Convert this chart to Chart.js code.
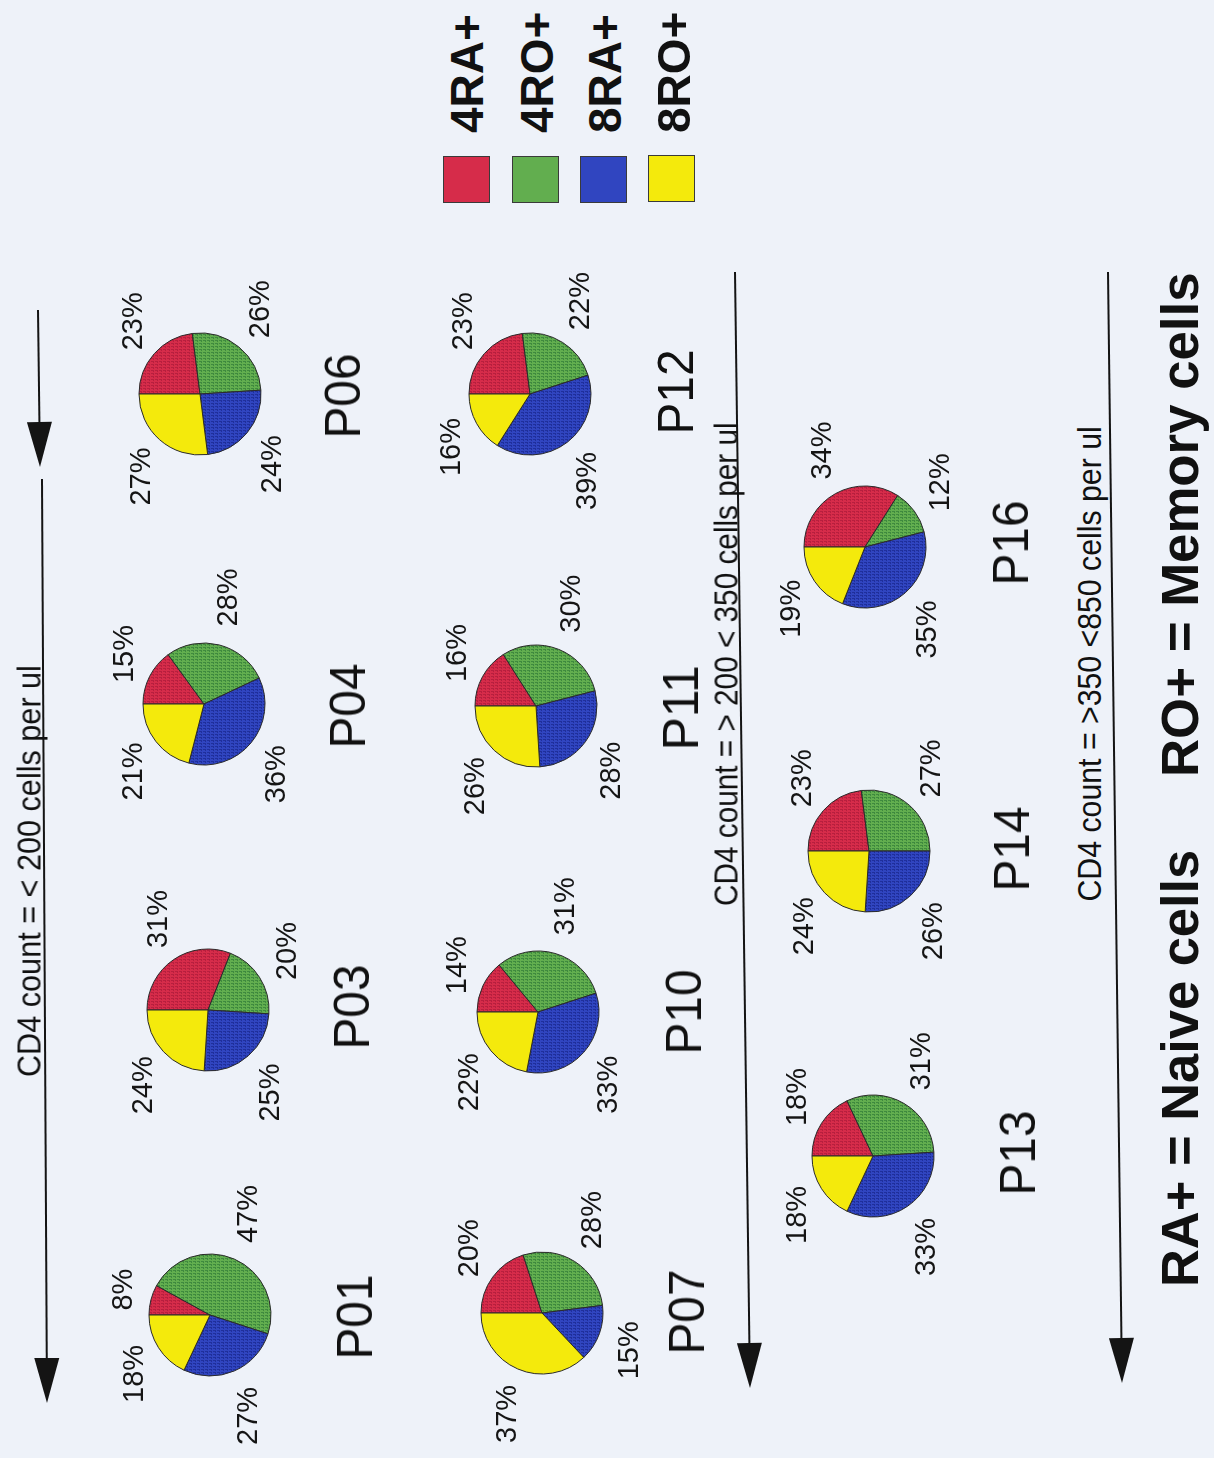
<!DOCTYPE html>
<html>
<head>
<meta charset="utf-8">
<script src="https://cdn.jsdelivr.net/npm/chart.js@4.4.1/dist/chart.umd.min.js"></script>
<style>
  html, body { margin: 0; padding: 0; background: #eef2f9; }
  #page {
    position: relative; width: 1214px; height: 1458px; overflow: hidden;
    background: #eef2f9; color: #111;
    font-family: "Liberation Sans", Arial, Helvetica, sans-serif;
  }
  .pie { position: absolute; }
  .txt { position: absolute; left: 0; top: 0; white-space: nowrap; line-height: 1; transform-origin: 0 0; }
  .swatch { position: absolute; width: 47px; height: 47px; box-sizing: border-box; border: 1px solid #3a3a3a; }
  #arrows { position: absolute; left: 0; top: 0; }
</style>
</head>
<body>
<div id="page"><svg id="arrows" width="1214" height="1458"></svg></div>
<script>
// T-cell subsets, in slice order
const categories = ['4RA+', '4RO+', '8RA+', '8RO+'];

// Share of each subset per patient, % (4RA+, 4RO+, 8RA+, 8RO+)
const P01 = [8, 47, 27, 18];
const P03 = [31, 20, 25, 24];
const P04 = [15, 28, 36, 21];
const P06 = [23, 26, 24, 27];
const P07 = [20, 28, 15, 37];
const P10 = [14, 31, 33, 22];
const P11 = [16, 30, 28, 26];
const P12 = [23, 22, 39, 16];
const P13 = [18, 31, 33, 18];
const P14 = [23, 27, 26, 24];
const P16 = [34, 12, 35, 19];

const patientNames = ['P01', 'P03', 'P04', 'P06', 'P07', 'P10', 'P11', 'P12', 'P13', 'P14', 'P16'];
const patientValues = [P01, P03, P04, P06, P07, P10, P11, P12, P13, P14, P16];

const groupTitles = [
  'CD4 count = < 200 cells per ul',
  'CD4 count = > 200 < 350 cells per ul',
  'CD4 count = >350 <850 cells per ul'
];
const footnotes = ['RA+ = Naive cells', 'RO+ = Memory cells'];

// ---- layout (page is drawn turned a quarter turn, text reads upward) ----
// pie centre x, y and patient label centre x, y
const pieLayout = [
  [210, 1315, 355, 1317], [208, 1010, 352, 1007], [204, 704, 348, 706], [200, 394, 343, 396],
  [542, 1313, 687, 1312], [538, 1012, 684, 1012], [536, 706, 681, 708], [530, 394, 676, 392],
  [873, 1156, 1018, 1153], [869, 851, 1012, 849], [865, 547, 1011, 543]
];
const PIE_RADIUS = 61;
const PIE_BOX = 320;

const fillBase = ['#d62c4a', '#62ae4f', '#3045c0', '#f4ea0c'];
const fillDark = ['#b81f3e', '#3f8a3e', '#1f2f9c', null];

const page = document.getElementById('page');

// Fine printed stipple inside the coloured slices
function stipple(base, dark) {
  if (!dark) return base;
  const c = document.createElement('canvas');
  c.width = 4; c.height = 3;
  const g = c.getContext('2d');
  g.fillStyle = base; g.fillRect(0, 0, 4, 3);
  g.fillStyle = dark;
  g.fillRect(0, 1, 2, 1); g.fillRect(3, 1, 1, 1);
  g.fillRect(1, 2, 1, 1);
  return g.createPattern(c, 'repeat');
}
const fills = fillBase.map((b, i) => stipple(b, fillDark[i]));

// Percentage labels, set just outside each slice, text turned to read upward
const pctLabels = {
  id: 'pctLabels',
  afterDatasetsDraw(chart, args, opts) {
    const ctx = chart.ctx;
    const data = chart.data.datasets[0].data;
    const meta = chart.getDatasetMeta(0);
    ctx.save();
    ctx.font = opts.size + 'px ' + opts.family;
    ctx.fillStyle = opts.color;
    ctx.textAlign = 'center';
    ctx.textBaseline = 'alphabetic';
    meta.data.forEach((arc, i) => {
      const p = arc.getProps(['x', 'y', 'startAngle', 'endAngle', 'outerRadius'], true);
      const mid = (p.startAngle + p.endAngle) / 2;
      const dx = Math.cos(mid), dy = Math.sin(mid);
      const text = data[i] + '%';
      const w = ctx.measureText(text).width;
      const h = opts.size * 0.72;
      const r = p.outerRadius + opts.gap;
      const px = p.x + dx * (r + h / 2);
      const py = p.y + dy * (r + w / 2);
      ctx.save();
      ctx.translate(px, py);
      ctx.rotate(-Math.PI / 2);
      ctx.fillText(text, 0, opts.size * 0.36);
      ctx.restore();
    });
    ctx.restore();
  }
};

patientValues.forEach((values, k) => {
  const [cx, cy] = pieLayout[k];
  const cv = document.createElement('canvas');
  cv.className = 'pie';
  cv.width = PIE_BOX; cv.height = PIE_BOX;
  cv.style.left = (cx - PIE_BOX / 2) + 'px';
  cv.style.top = (cy - PIE_BOX / 2) + 'px';
  page.appendChild(cv);
  new Chart(cv, {
    type: 'pie',
    data: {
      labels: categories,
      datasets: [{ data: values, backgroundColor: fills, borderColor: '#2a2a2a', borderWidth: 1 }]
    },
    options: {
      responsive: false,
      animation: false,
      events: [],
      radius: PIE_RADIUS,
      rotation: -90,
      layout: { padding: 0 },
      plugins: {
        legend: { display: false },
        tooltip: { enabled: false },
        pctLabels: { size: 29, family: '"Liberation Sans", Arial, sans-serif', color: '#151515', gap: 20 }
      }
    },
    plugins: [pctLabels]
  });
});

// Upward-reading text; (x, y) = centre of the line box across, and the start or middle along the text
function placeText(str, x, y, size, weight, anchor, length) {
  const el = document.createElement('div');
  el.className = 'txt';
  el.textContent = str;
  el.style.fontSize = size + 'px';
  el.style.fontWeight = weight;
  page.appendChild(el);
  const w = el.offsetWidth;
  const s = length ? length / w : 1;
  const ax = anchor === 'start' ? 0 : w / 2;
  const tx = x - size / 2, ty = y + s * ax;
  el.style.transform = 'translate(' + tx + 'px,' + ty + 'px) rotate(-90deg) scaleX(' + s + ')';
}

// patient names
patientNames.forEach((name, k) => {
  const [, , lx, ly] = pieLayout[k];
  placeText(name, lx, ly, 50, 400, 'center', 85);
});

// group titles sitting on their arrows
const titleLayout = [[29, 871, 412], [726, 664, 484], [1089, 664, 475]];
groupTitles.forEach((t, i) => {
  const [x, y, len] = titleLayout[i];
  placeText(t, x, y, 33, 400, 'center', len);
});

// footnotes
const footLayout = [[1180, 1287, 437], [1180, 777, 505]];
footnotes.forEach((t, i) => {
  const [x, y, len] = footLayout[i];
  placeText(t, x, y, 51, 700, 'start', len);
});

// legend
const swatchLayout = [[443, 156], [512, 156], [580, 156], [648, 155]];
const legendTextX = [467, 537, 605, 674];
categories.forEach((c, i) => {
  const sw = document.createElement('div');
  sw.className = 'swatch';
  sw.style.left = swatchLayout[i][0] + 'px';
  sw.style.top = swatchLayout[i][1] + 'px';
  sw.style.background = fillBase[i];
  page.appendChild(sw);
  placeText(c, legendTextX[i], 133, 46, 700, 'start', null);
});

// arrows: x1, y1 -> tip x2, y2
const arrowSegments = [[38, 310, 40, 467], [42, 479, 47, 1403], [735, 272, 750, 1388], [1108, 272, 1122, 1383]];
const svg = document.getElementById('arrows');
const NS = 'http://www.w3.org/2000/svg';
arrowSegments.forEach(([x1, y1, x2, y2]) => {
  const L = Math.hypot(x2 - x1, y2 - y1);
  const ux = (x2 - x1) / L, uy = (y2 - y1) / L;
  const headLen = 45, half = 12.5;
  const bx = x2 - ux * headLen, by = y2 - uy * headLen;
  const line = document.createElementNS(NS, 'line');
  line.setAttribute('x1', x1); line.setAttribute('y1', y1);
  line.setAttribute('x2', bx); line.setAttribute('y2', by);
  line.setAttribute('stroke', '#141414'); line.setAttribute('stroke-width', '2');
  svg.appendChild(line);
  const head = document.createElementNS(NS, 'polygon');
  const pts = [[x2, y2], [bx - uy * half, by + ux * half], [bx + uy * half, by - ux * half]];
  head.setAttribute('points', pts.map(p => p.join(',')).join(' '));
  head.setAttribute('fill', '#141414');
  svg.appendChild(head);
});
</script>
</body>
</html>
